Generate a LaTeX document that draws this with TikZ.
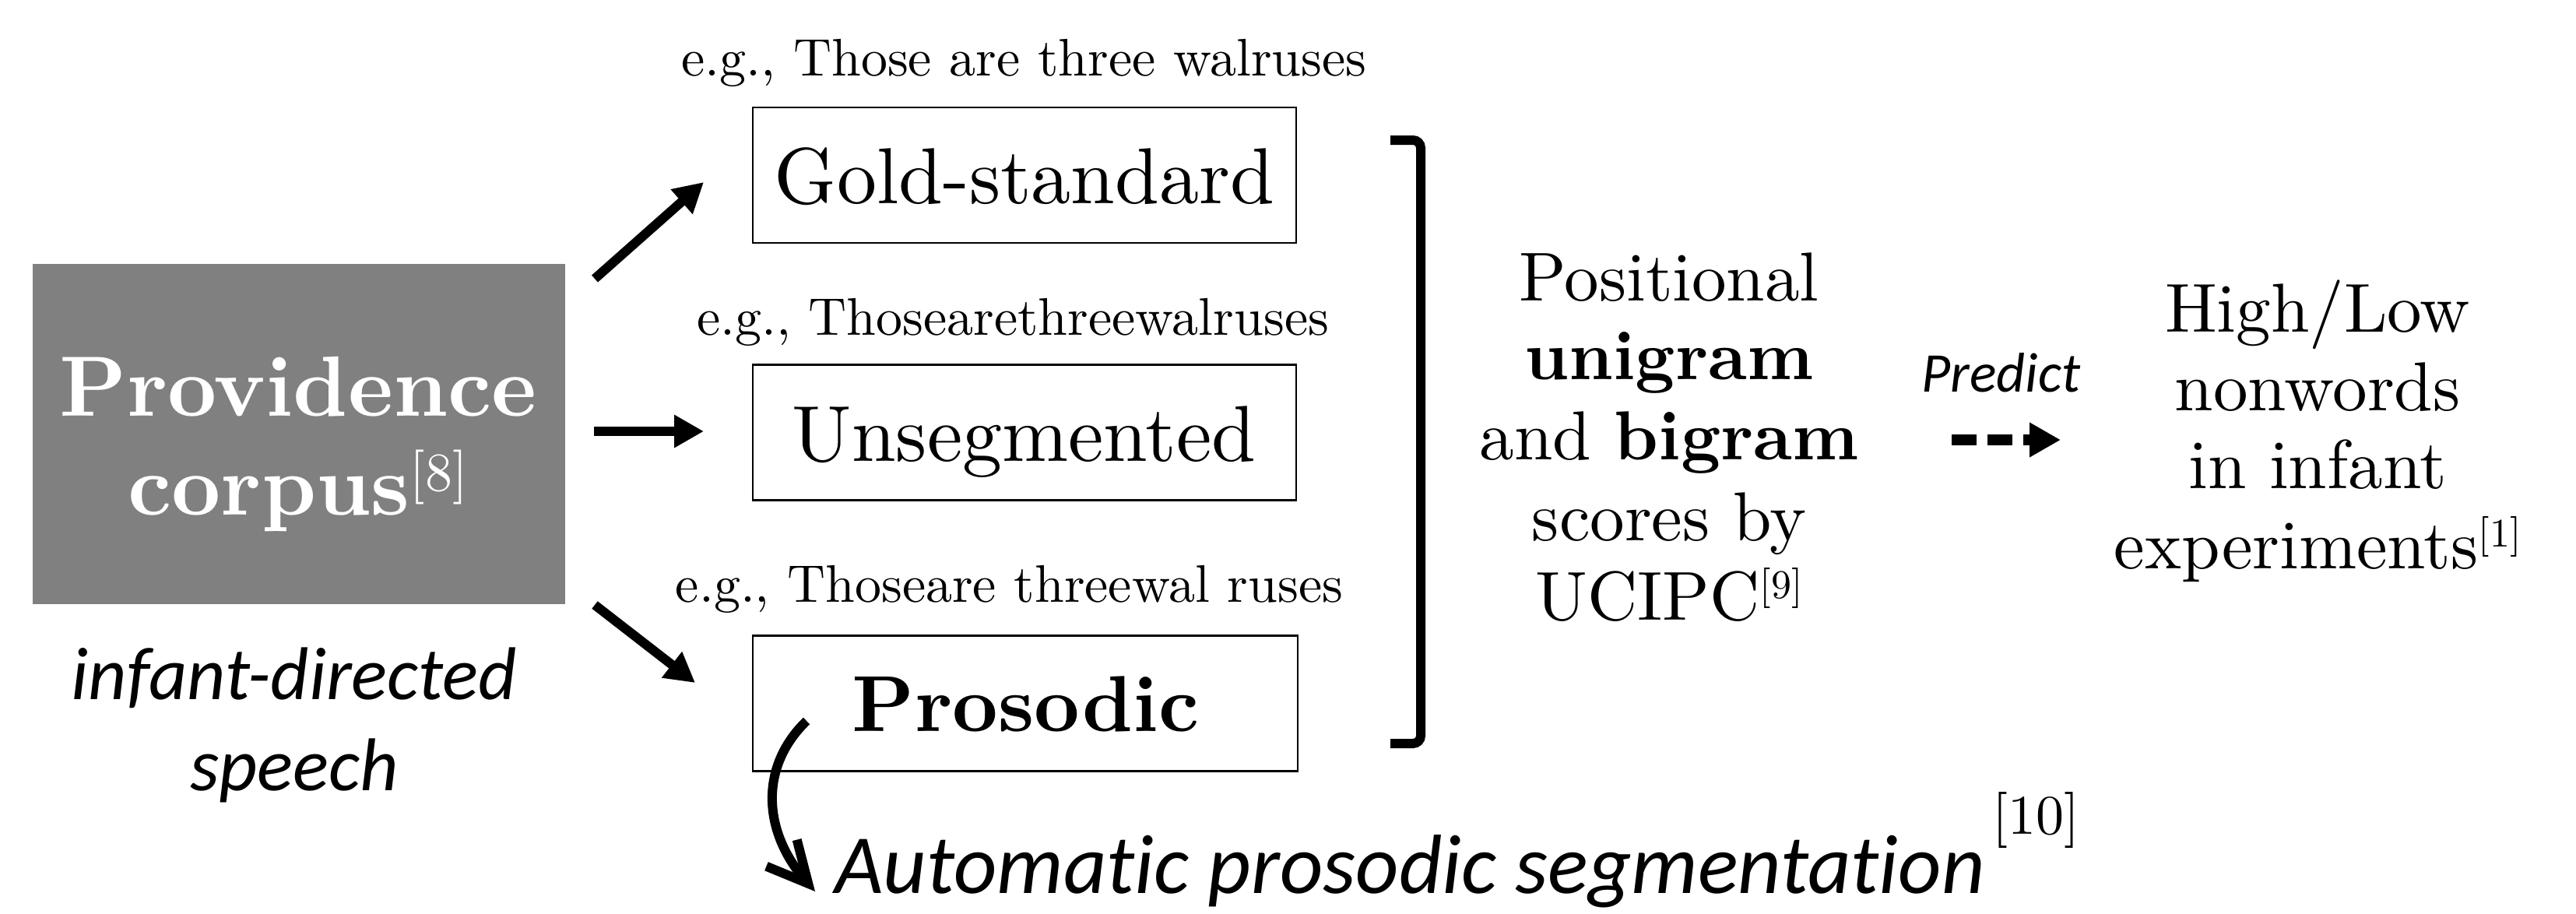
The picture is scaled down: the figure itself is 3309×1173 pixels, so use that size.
\documentclass[tikz,border=0pt]{standalone}
\usepackage{fontspec}
\setmainfont{lmroman10-regular}[Extension=.otf, BoldFont=lmroman10-bold, ItalicFont=lmroman10-italic, BoldItalicFont=lmroman10-bolditalic]
\newfontfamily\calib{Carlito}[Ligatures={NoCommon}]
\usetikzlibrary{arrows.meta}
\definecolor{boxgray}{RGB}{128,128,128}
\tikzset{
  ar/.style={line width=6pt, -{Triangle[length=19pt,width=20pt]}},
  sbox/.style={draw, line width=1.1pt, inner sep=0pt, minimum width=349pt, minimum height=87pt},
  lbl/.style={anchor=base, inner sep=0pt},
  egfont/.style={font=\fontsize{34}{34}\selectfont},
  boxfont/.style={font=\fontsize{51}{51}\selectfont},
  midfont/.style={font=\fontsize{44.5}{44.5}\selectfont},
  calfont/.style={font=\calib\itshape\fontsize{#1}{#1}\selectfont},
}
\begin{document}
\begin{tikzpicture}[x=0.5pt,y=-0.5pt]
\useasboundingbox (0,0) rectangle (3309,1173);
% corpus box
\node[fill=boxgray, inner sep=0pt, minimum width=342pt, minimum height=218.5pt] (corpus) at (384,557.5) {};
\node[lbl, text=white, font=\bfseries\fontsize{55}{55}\selectfont] (prov) at (383,534) {Providence};
\node[lbl, text=white, font=\bfseries\fontsize{55}{55}\selectfont] (corp) at (382.5,661) {corpus\raisebox{15.5pt}{\mdseries\fontsize{35}{35}\selectfont[8]}};
\node[lbl, calfont=48] (ids1) at (378,898) {infant-directed};
\node[lbl, calfont=48] (ids2) at (378,1015) {speech};
% three boxes
\node[sbox] (gold) at (1316,225) {};
\node[sbox] (unseg) at (1316,555.5) {};
\node[sbox, minimum width=350pt] (pros) at (1317,903.5) {};
\node[lbl, boxfont] (goldt) at (1316,261) {Gold-standard};
\node[lbl, boxfont] (unsegt) at (1315.5,592) {Unsegmented};
\node[lbl, boxfont] (prost) at (1317.5,939.5) {\bfseries Prosodic};
\node[lbl, egfont] (eg1) at (1315.5,97) {e.g., Those are three walruses};
\node[lbl, egfont] (eg2) at (1301,430) {e.g., Thosearethreewalruses};
\node[lbl, egfont] (eg3) at (1296.5,773) {e.g., Thoseare threewal ruses};
% arrows from corpus
\coordinate (a1s) at (764,358); \coordinate (a1e) at (904,234);
\coordinate (a2s) at (763,554); \coordinate (a2e) at (904,554);
\coordinate (a3s) at (764,777); \coordinate (a3e) at (893,877);
\draw[ar] (a1s) -- (a1e);
\draw[ar] (a2s) -- (a2e);
\draw[ar] (a3s) -- (a3e);
% bracket
\draw[line width=6pt, rounded corners=5pt] (1786,180) -- (1825,180) -- (1825,955) -- (1786,955);
% positional text
\node[lbl, midfont] (pos1) at (2144,386) {Positional};
\node[lbl, midfont] (pos2) at (2144,487) {\bfseries unigram};
\node[lbl, midfont] (pos3) at (2144,590) {and \textbf{bigram}};
\node[lbl, midfont] (pos4) at (2144,694) {scores by};
\node[lbl, midfont] (pos5) at (2144,796) {UCIPC\raisebox{14pt}{\fontsize{26}{26}\selectfont[9]}};
% predict
\node[lbl, calfont=36] (pred) at (2570.5,503.6) {Predict};
\coordinate (ds) at (2507,565); \coordinate (de) at (2647,565);
\draw[line width=7pt, dash pattern=on 16pt off 7pt, -{Triangle[length=20pt,width=21pt]}] (ds) -- (de);
% high/low
\node[lbl, midfont] (hl1) at (2977,426) {High/Low};
\node[lbl, midfont] (hl2) at (2977,527) {nonwords};
\node[lbl, midfont] (hl3) at (2977,627) {in infant};
\node[lbl, midfont] (hl4) at (2977,730) {experiments\raisebox{14pt}{\fontsize{26}{26}\selectfont[1]}};
% curved arrow
\coordinate (cs) at (1036,926); \coordinate (ce) at (1047,1145);
\draw[line width=6pt, -{Straight Barb[length=26pt,width=26pt]}] (cs) .. controls (975,985) and (980,1068) .. (ce);
\node[anchor=base west, inner sep=0pt, calfont=54] (auto) at (1072,1147) {Automatic prosodic segmentation\hspace{5pt}\raisebox{38pt}{\normalfont\fontsize{36}{36}\selectfont[10]}};
\end{tikzpicture}
\end{document}
